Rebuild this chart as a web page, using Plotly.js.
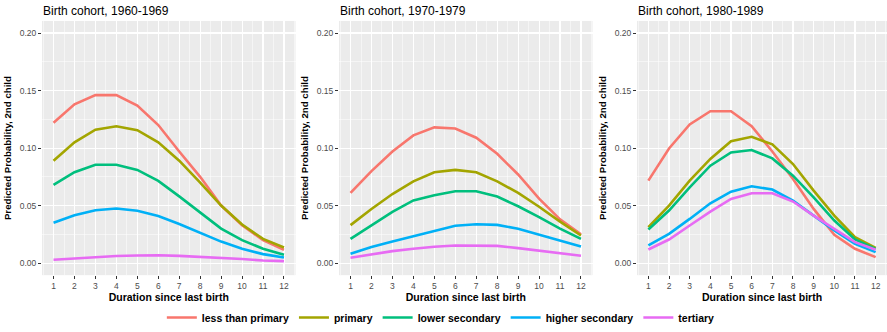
<!DOCTYPE html>
<html>
<head>
<meta charset="utf-8">
<script src="https://cdn.plot.ly/plotly-3.0.1.min.js"></script>
<style>html,body{margin:0;padding:0;background:#fff;}#chart{width:887px;height:332px;}</style>
</head>
<body>
<div id="chart"></div>
<script>
// ---- data ----
const durations = [1, 2, 3, 4, 5, 6, 7, 8, 9, 10, 11, 12];
const tickLabels = ['1','2','3','4','5','6','7','8','9','10','11','12'];
const yTickVals = [0, 0.05, 0.10, 0.15, 0.20];
const yTickLabels = ['0.00', '0.05', '0.10', '0.15', '0.20'];
const cohorts = ['Birth cohort, 1960-1969', 'Birth cohort, 1970-1979', 'Birth cohort, 1980-1989'];
const levels = ['less than primary', 'primary', 'lower secondary', 'higher secondary', 'tertiary'];
const levelColors = ['#F8766D', '#A3A500', '#00BF7D', '#00B0F6', '#E76BF3'];

// cohort 1960-1969
const lessPrimary1960 = [0.122, 0.138, 0.146, 0.146, 0.137, 0.120, 0.097, 0.075, 0.050, 0.033, 0.020, 0.0115];
const primary1960     = [0.089, 0.105, 0.116, 0.119, 0.1155, 0.105, 0.089, 0.070, 0.050, 0.0335, 0.021, 0.0135];
const lowerSec1960    = [0.068, 0.079, 0.0855, 0.0855, 0.081, 0.0715, 0.058, 0.044, 0.030, 0.020, 0.0125, 0.0072];
const higherSec1960   = [0.035, 0.0415, 0.046, 0.0475, 0.0455, 0.041, 0.034, 0.026, 0.0187, 0.0124, 0.0078, 0.0049];
const tertiary1960    = [0.0029, 0.004, 0.0052, 0.0062, 0.0066, 0.0068, 0.0063, 0.0055, 0.0046, 0.0035, 0.0023, 0.0017];

// cohort 1970-1979
const lessPrimary1970 = [0.061, 0.080, 0.097, 0.111, 0.118, 0.117, 0.109, 0.095, 0.077, 0.056, 0.038, 0.025];
const primary1970     = [0.033, 0.047, 0.060, 0.071, 0.079, 0.081, 0.079, 0.071, 0.061, 0.049, 0.036, 0.024];
const lowerSec1970    = [0.021, 0.033, 0.0445, 0.0545, 0.059, 0.0625, 0.0625, 0.0578, 0.0494, 0.040, 0.030, 0.021];
const higherSec1970   = [0.0081, 0.0139, 0.0188, 0.0234, 0.0283, 0.0324, 0.0338, 0.0332, 0.0298, 0.0249, 0.0197, 0.0145];
const tertiary1970    = [0.0046, 0.0075, 0.0104, 0.0124, 0.0142, 0.0153, 0.0153, 0.0150, 0.0130, 0.0107, 0.0084, 0.0064];

// cohort 1980-1989
const lessPrimary1980 = [0.0717, 0.0996, 0.1205, 0.132, 0.132, 0.119, 0.097, 0.0731, 0.0471, 0.0246, 0.0124, 0.0052];
const primary1980     = [0.0312, 0.050, 0.0717, 0.0905, 0.106, 0.1098, 0.1032, 0.0861, 0.063, 0.0413, 0.0225, 0.0133];
const lowerSec1980    = [0.0292, 0.0457, 0.0659, 0.0847, 0.0962, 0.0983, 0.091, 0.076, 0.0572, 0.037, 0.0205, 0.0124];
const higherSec1980   = [0.0153, 0.0254, 0.0384, 0.052, 0.0621, 0.0668, 0.0639, 0.0543, 0.0413, 0.0283, 0.0168, 0.0095];
const tertiary1980    = [0.0118, 0.0205, 0.0327, 0.0448, 0.0558, 0.0607, 0.0607, 0.0535, 0.0413, 0.0298, 0.0182, 0.0116];

const panels = [
  [lessPrimary1960, primary1960, lowerSec1960, higherSec1960, tertiary1960],
  [lessPrimary1970, primary1970, lowerSec1970, higherSec1970, tertiary1970],
  [lessPrimary1980, primary1980, lowerSec1980, higherSec1980, tertiary1980]
];

// ---- layout helpers ----
const W = 887, H = 332;
const xDomainsPx = [[42, 295.5], [339, 592.5], [637, 887]];
const yDomainPx = [21, 276];
const FONT = 'Liberation Sans, Arial, sans-serif';

const traces = [];
panels.forEach((series, p) => {
  const ax = p === 0 ? '' : String(p + 1);
  series.forEach((vals, i) => {
    traces.push({
      type: 'scatter', mode: 'lines',
      x: durations, y: vals,
      name: levels[i], legendgroup: levels[i],
      showlegend: p === 0,
      line: {color: levelColors[i], width: 2.6},
      xaxis: 'x' + ax, yaxis: 'y' + ax,
      hoverinfo: 'skip'
    });
  });
});

const layout = {
  width: W, height: H,
  margin: {l: 0, r: 0, t: 0, b: 0},
  paper_bgcolor: '#FFFFFF',
  plot_bgcolor: '#EBEBEB',
  font: {family: FONT, color: '#000'},
  showlegend: true,
  legend: {
    orientation: 'h', x: 0.497, xanchor: 'center', y: 1 - 318 / H, yanchor: 'middle',
    font: {family: FONT, size: 10.5, weight: 'bold', color: '#000'},
    bgcolor: 'rgba(0,0,0,0)', itemwidth: 30
  },
  annotations: [],
  shapes: []
};

xDomainsPx.forEach((d, p) => {
  const ax = p === 0 ? '' : String(p + 1);
  layout['xaxis' + ax] = {
    domain: [d[0] / W, d[1] / W],
    anchor: 'y' + ax,
    range: [0.45, 12.55],
    tickmode: 'array', tickvals: durations, ticktext: tickLabels,
    ticks: 'outside', ticklen: 3, tickwidth: 1, tickcolor: '#333333',
    tickfont: {family: FONT, size: 8.5, color: '#4D4D4D'},
    showgrid: true, gridcolor: '#FFFFFF', gridwidth: 1.1,
    minor: {dtick: 0.5, tick0: 0.5, showgrid: true, gridcolor: '#FFFFFF', gridwidth: 0.5},
    zeroline: false, showline: false,
    title: {text: 'Duration since last birth', standoff: 3,
            font: {family: FONT, size: 10.5, weight: 'bold', color: '#000'}}
  };
  layout['yaxis' + ax] = {
    domain: [1 - yDomainPx[1] / H, 1 - yDomainPx[0] / H],
    anchor: 'x' + ax,
    range: [-0.0105, 0.2105],
    tickmode: 'array', tickvals: yTickVals, ticktext: yTickLabels,
    ticks: 'outside', ticklen: 3, tickwidth: 1, tickcolor: '#333333',
    tickfont: {family: FONT, size: 8.5, color: '#4D4D4D'},
    showgrid: true, gridcolor: '#FFFFFF', gridwidth: 1.1,
    minor: {dtick: 0.025, tick0: 0.025, showgrid: true, gridcolor: '#FFFFFF', gridwidth: 0.5},
    zeroline: false, showline: false,
    title: {text: 'Predicted Probability, 2nd child', standoff: 6,
            font: {family: FONT, size: 9.7, weight: 'bold', color: '#000'}}
  };
  layout.annotations.push({
    text: cohorts[p], xref: 'x' + ax + ' domain', yref: 'paper',
    x: 0, y: 1 - 11.5 / H, xanchor: 'left', yanchor: 'middle', xshift: -1,
    showarrow: false, font: {family: FONT, size: 12, color: '#000'}
  });
});

Plotly.newPlot('chart', traces, layout, {displayModeBar: false, staticPlot: true});
</script>
</body>
</html>
